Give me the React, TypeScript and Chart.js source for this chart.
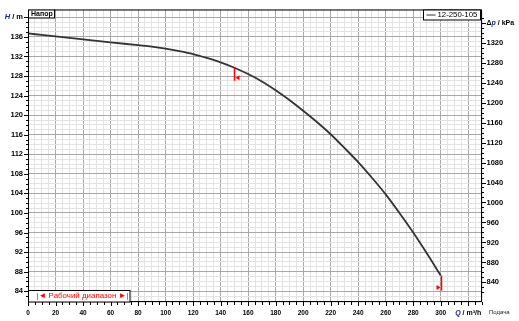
import React, { useEffect, useRef } from 'react';
import { Chart, registerables } from 'chart.js';

Chart.register(...registerables);

// ---- data ----
const flowQ = [0, 10, 20, 30, 40, 50, 60, 70, 80, 90, 100, 110, 120, 130, 140, 150, 160, 170, 180, 190, 200, 210, 220, 230, 240, 250, 260, 270, 280, 290, 300];
const headH = [136.7, 136.4, 136.1, 135.8, 135.5, 135.2, 134.9, 134.6, 134.3, 134.0, 133.6, 133.1, 132.5, 131.7, 130.8, 129.7, 128.4, 126.9, 125.1, 123.1, 120.9, 118.6, 116.1, 113.3, 110.4, 107.2, 103.8, 100.0, 96.0, 91.7, 87.2];
const seriesName = '12-250-105';
const xTickLabels = [0, 20, 40, 60, 80, 100, 120, 140, 160, 180, 200, 220, 240, 260, 280, 300];
const leftTickLabels = [84, 88, 92, 96, 100, 104, 108, 112, 116, 120, 124, 128, 132, 136];
const rightTickLabels = [840, 880, 920, 960, 1000, 1040, 1080, 1120, 1160, 1200, 1240, 1280, 1320];
const workRange = [150, 300];
const qRange = [0, 330];
const hRange = [81.8, 141.6];
const kPaPerMeter = 9.79;

const FONT = "'Liberation Sans', Arial, 'DejaVu Sans', sans-serif";

const near = (v: number, step: number) => Math.abs(v - Math.round(v / step) * step) < 1e-6;

function headAt(q: number): number {
  const i = flowQ.indexOf(q);
  return i >= 0 ? headH[i] : headH[headH.length - 1];
}

function drawRich(ctx: CanvasRenderingContext2D, parts: [string, string, string][], x: number, y: number, align: 'left' | 'right' | 'center') {
  let total = 0;
  const widths = parts.map(([t, f]) => { ctx.font = f; const w = ctx.measureText(t).width; total += w; return w; });
  let cx = align === 'left' ? x : align === 'right' ? x - total : x - total / 2;
  ctx.textAlign = 'left';
  ctx.textBaseline = 'middle';
  parts.forEach(([t, f, c], i) => { ctx.font = f; ctx.fillStyle = c; ctx.fillText(t, cx, y); cx += widths[i]; });
}

const overlay = {
  id: 'overlay',
  afterDraw(chart: any) {
    const ctx: CanvasRenderingContext2D = chart.ctx;
    const a = chart.chartArea;
    const xs = chart.scales.x, ys = chart.scales.y, y2 = chart.scales.y2;
    ctx.save();

    // tick marks
    ctx.strokeStyle = '#000';
    ctx.lineWidth = 1;
    ctx.beginPath();
    xs.ticks.forEach((t: any) => {
      if (!near(t.value, 5)) return;
      const px = Math.round(xs.getPixelForValue(t.value)) + 0.5;
      const len = near(t.value, 20) ? 4 : 3;
      ctx.moveTo(px, a.bottom); ctx.lineTo(px, a.bottom + len);
    });
    ys.ticks.forEach((t: any) => {
      if (!near(t.value, 1)) return;
      const py = Math.round(ys.getPixelForValue(t.value)) + 0.5;
      const len = near(t.value, 4) ? 4 : 2;
      ctx.moveTo(a.left, py); ctx.lineTo(a.left - len, py);
    });
    y2.ticks.forEach((t: any) => {
      if (!near(t.value, 10)) return;
      const py = Math.round(y2.getPixelForValue(t.value)) + 0.5;
      const len = near(t.value, 40) ? 4 : 2;
      ctx.moveTo(a.right, py); ctx.lineTo(a.right + len, py);
    });
    ctx.stroke();

    // frame
    ctx.strokeStyle = '#000';
    ctx.strokeRect(a.left + 0.5, a.top + 0.5, a.right - a.left - 1, a.bottom - a.top - 1);

    // working range markers
    ctx.strokeStyle = '#ff0000';
    ctx.fillStyle = '#ff0000';
    ctx.lineWidth = 1.5;
    workRange.forEach((q, i) => {
      const px = Math.round(xs.getPixelForValue(q)) + 0.5;
      const top = ys.getPixelForValue(headAt(q));
      const bottom = top + (i === 0 ? 13 : 15);
      ctx.beginPath(); ctx.moveTo(px, top); ctx.lineTo(px, bottom); ctx.stroke();
      const yc = bottom - 3;
      ctx.beginPath();
      if (i === 0) {
        ctx.moveTo(px + 1, yc); ctx.lineTo(px + 5, yc - 2.5); ctx.lineTo(px + 5, yc + 2.5);
      } else {
        ctx.moveTo(px - 1, yc); ctx.lineTo(px - 5, yc - 2.5); ctx.lineTo(px - 5, yc + 2.5);
      }
      ctx.closePath(); ctx.fill();
    });

    // axis titles
    const yH = ys.getPixelForValue(140);
    drawRich(ctx, [['H', `italic bold 7.5px ${FONT}`, '#1a2a80'], [' / m', `bold 7.5px ${FONT}`, '#000']], a.left - 5, yH, 'right');
    const yP = y2.getPixelForValue(1360);
    drawRich(ctx, [['Δ', `bold 7px ${FONT}`, '#000'], ['p', `italic bold 7px ${FONT}`, '#1a2a80'], [' / kPa', `bold 7px ${FONT}`, '#000']], a.right + 4.5, yP, 'left');
    const xQ = xs.getPixelForValue(320);
    drawRich(ctx, [['Q', `italic bold 7px ${FONT}`, '#1a2a80'], [' / m³/h', `bold 7px ${FONT}`, '#000']], xQ, 313, 'center');
    drawRich(ctx, [['Подача', `6px ${FONT}`, '#222']], 489, 312, 'left');

    // top-left label box
    ctx.fillStyle = '#fff';
    ctx.fillRect(a.left, a.top, 26, 8);
    ctx.strokeStyle = '#000'; ctx.lineWidth = 1;
    ctx.strokeRect(a.left + 0.5, a.top + 0.5, 26, 8);
    drawRich(ctx, [['Напор', `bold 7px ${FONT}`, '#000']], a.left + 3, a.top + 4.5, 'left');

    // legend box
    const lx = 423.5, ly = a.top + 0.5, lw = 57, lh = 10;
    ctx.fillStyle = '#fff';
    ctx.fillRect(lx, ly, lw, lh);
    ctx.strokeStyle = '#000';
    ctx.strokeRect(lx, ly, lw, lh);
    ctx.strokeStyle = '#333'; ctx.lineWidth = 1;
    ctx.beginPath(); ctx.moveTo(lx + 3, ly + 5); ctx.lineTo(lx + 12, ly + 5); ctx.stroke();
    drawRich(ctx, [[seriesName, `7.8px ${FONT}`, '#000']], lx + 14, ly + 5.2, 'left');

    // working range box
    const bx = a.left + 0.5, by = 290.5, bw = 101.5, bh = a.bottom - 290.5;
    ctx.fillStyle = '#fff';
    ctx.fillRect(bx, by, bw, bh);
    ctx.strokeStyle = '#000'; ctx.lineWidth = 1;
    ctx.strokeRect(bx, by, bw, bh);
    ctx.font = `8px ${FONT}`;
    ctx.fillStyle = '#ff0000';
    ctx.textAlign = 'left';
    ctx.textBaseline = 'middle';
    ctx.fillText('|◄ Рабочий диапазон ►|', a.left + 8.5, 296, 92);

    ctx.restore();
  },
};

export default function App() {
  const ref = useRef<HTMLCanvasElement | null>(null);
  useEffect(() => {
    document.body.style.margin = '0';
    if (!ref.current) return;
    const chart = new Chart(ref.current, {
      type: 'scatter',
      data: {
        datasets: [{
          label: seriesName,
          data: flowQ.map((q, i) => ({ x: q, y: headH[i] })),
          showLine: true,
          borderColor: '#333333',
          borderWidth: 1.8,
          pointRadius: 0,
          cubicInterpolationMode: 'monotone',
          yAxisID: 'y',
        }],
      },
      options: {
        animation: false,
        responsive: false,
        devicePixelRatio: 1,
        layout: { padding: { top: 5, left: 0, right: 0, bottom: 0 } },
        plugins: { legend: { display: false }, tooltip: { enabled: false }, title: { display: false } },
        scales: {
          x: {
            type: 'linear', position: 'bottom', min: qRange[0], max: qRange[1],
            border: { display: false },
            grid: {
              drawTicks: false,
              color: (c: any) => (near(c.tick.value, 20) ? '#a8a8a8' : '#e3e3e3'),
            },
            ticks: {
              stepSize: 5, autoSkip: false, maxRotation: 0, padding: 7,
              color: '#000', font: { size: 6.5, family: FONT, weight: 'bold' },
              callback: (v: any) => (xTickLabels.includes(Number(v)) ? String(v) : ''),
            },
            afterFit: (s: any) => { s.height = 19; },
          },
          y: {
            type: 'linear', position: 'left', min: hRange[0], max: hRange[1],
            border: { display: false },
            grid: {
              drawTicks: false,
              color: (c: any) => (near(c.tick.value, 4) ? '#a8a8a8' : '#e3e3e3'),
            },
            ticks: {
              stepSize: 1, autoSkip: false, padding: 5,
              color: '#000', font: { size: 7.5, family: FONT, weight: 'bold' },
              callback: (v: any) => (leftTickLabels.includes(Number(v)) ? String(v) : ''),
            },
            afterFit: (s: any) => { s.width = 28; },
          },
          y2: {
            type: 'linear', position: 'right',
            min: hRange[0] * kPaPerMeter, max: hRange[1] * kPaPerMeter,
            border: { display: false },
            grid: { drawTicks: false, drawOnChartArea: false },
            ticks: {
              stepSize: 10, autoSkip: false, padding: 4.5,
              color: '#000', font: { size: 7.5, family: FONT, weight: 'bold' },
              callback: (v: any) => (rightTickLabels.includes(Number(v)) ? String(v) : ''),
            },
            afterFit: (s: any) => { s.width = 37; },
          },
        },
      } as any,
      plugins: [overlay],
    });
    return () => chart.destroy();
  }, []);
  return (
    <div style={{ width: 519, height: 321 }}>
      <canvas ref={ref} width={519} height={321} style={{ display: 'block', width: 519, height: 321 }} />
    </div>
  );
}
